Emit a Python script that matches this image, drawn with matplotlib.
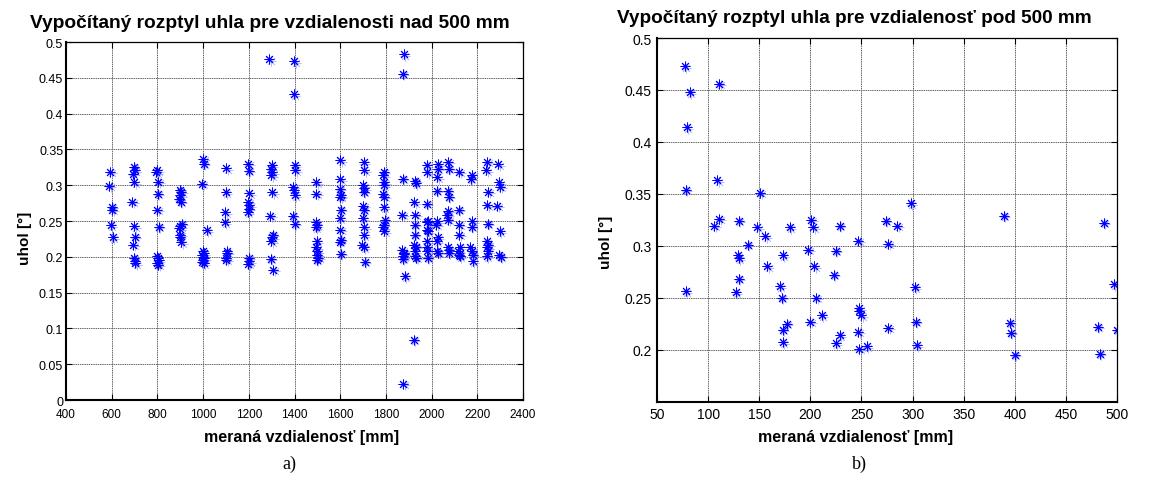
import numpy as np
import matplotlib
matplotlib.use('Agg')
import matplotlib.pyplot as plt
from matplotlib.ticker import FormatStrFormatter
import matplotlib.transforms as mtransforms

plt.rcParams['font.family'] = ['Liberation Sans', 'DejaVu Sans']

# a) distances above 500 mm, grouped by measured column
dist_nad = [
    593, 590, 600, 602, 595, 605,
    697, 700, 693, 698, 690, 699, 701, 694, 696, 700, 703,
    800, 796, 803, 801, 799, 805, 798, 802, 806, 800, 804,
    898, 905, 901, 894, 903, 907, 900, 896, 899, 897, 905,
    1000, 1003, 997, 1015, 998, 1003, 996, 1001, 1004, 999, 995, 1002,
    1102, 1100, 1096, 1095, 1103, 1106, 1098, 1101,
    1198, 1200, 1203, 1197, 1201, 1199, 1196, 1200, 1203, 1198,
    1290, 1300, 1296, 1302, 1298, 1303, 1294, 1305, 1302, 1299, 1296, 1306,
    1398, 1396, 1401, 1404, 1394, 1397, 1402, 1393, 1401,
    1496, 1495, 1494, 1498, 1493, 1497, 1495, 1499, 1500, 1503, 1497,
    1601, 1600, 1598, 1603, 1600, 1602, 1599, 1601, 1603, 1598, 1602,
    1703, 1705, 1700, 1706, 1702, 1701, 1703, 1699, 1706, 1702, 1697, 1704, 1708,
    1790, 1788, 1793, 1790, 1787, 1793, 1791, 1794, 1790, 1788, 1792,
    1877, 1874, 1873, 1871, 1872, 1878, 1875, 1873, 1880, 1882, 1876,
    1928, 1930, 1925, 1928, 1927, 1926, 1924, 1931, 1926, 1929, 1933, 1922,
    1979, 1981, 1978, 1982, 1980, 1978, 1983, 1979, 1981, 1980, 1982,
    2030, 2027, 2025, 2023, 2024, 2020, 2026, 2022, 2025, 2028,
    2073, 2075, 2070, 2074, 2072, 2068, 2072, 2070, 2074, 2076,
    2120, 2118, 2122, 2120, 2123, 2117, 2121, 2124,
    2175, 2172, 2178, 2175, 2170, 2176, 2179, 2180,
    2244, 2240, 2247, 2243, 2245, 2241, 2248, 2243, 2246, 2242,
    2292, 2296, 2300, 2288, 2298, 2294, 2303,
]
uhol_nad = [
    0.319, 0.299, 0.270, 0.266, 0.244, 0.227,
    0.326, 0.321, 0.316, 0.304, 0.277, 0.243, 0.228, 0.217, 0.199, 0.194, 0.191,
    0.321, 0.318, 0.305, 0.288, 0.266, 0.242, 0.201, 0.198, 0.195, 0.192, 0.189,
    0.294, 0.291, 0.286, 0.281, 0.277, 0.246, 0.243, 0.240, 0.231, 0.228, 0.220,
    0.337, 0.330, 0.302, 0.237, 0.208, 0.205, 0.202, 0.200, 0.198, 0.196, 0.193, 0.191,
    0.324, 0.290, 0.262, 0.248, 0.208, 0.206, 0.199, 0.196,
    0.330, 0.320, 0.289, 0.277, 0.272, 0.267, 0.262, 0.199, 0.194, 0.190,
    0.476, 0.328, 0.323, 0.318, 0.314, 0.290, 0.257, 0.231, 0.227, 0.222, 0.197, 0.182,
    0.473, 0.427, 0.328, 0.321, 0.298, 0.293, 0.286, 0.257, 0.246,
    0.304, 0.288, 0.248, 0.244, 0.241, 0.222, 0.213, 0.208, 0.203, 0.199, 0.196,
    0.335, 0.308, 0.295, 0.286, 0.284, 0.266, 0.254, 0.238, 0.224, 0.221, 0.204,
    0.332, 0.321, 0.300, 0.296, 0.291, 0.271, 0.266, 0.254, 0.241, 0.230, 0.217, 0.213, 0.193,
    0.319, 0.314, 0.304, 0.300, 0.288, 0.284, 0.269, 0.252, 0.245, 0.241, 0.236,
    0.483, 0.456, 0.309, 0.259, 0.210, 0.206, 0.201, 0.197, 0.204, 0.173, 0.023,
    0.306, 0.303, 0.276, 0.259, 0.245, 0.231, 0.217, 0.214, 0.208, 0.201, 0.199, 0.084,
    0.328, 0.318, 0.274, 0.250, 0.248, 0.238, 0.236, 0.222, 0.213, 0.208, 0.199,
    0.329, 0.323, 0.311, 0.292, 0.250, 0.245, 0.227, 0.222, 0.208, 0.206,
    0.333, 0.323, 0.292, 0.284, 0.264, 0.259, 0.252, 0.213, 0.210, 0.206,
    0.319, 0.266, 0.245, 0.231, 0.213, 0.208, 0.203, 0.201,
    0.314, 0.309, 0.250, 0.242, 0.213, 0.208, 0.203, 0.194,
    0.333, 0.321, 0.291, 0.272, 0.246, 0.222, 0.217, 0.213, 0.208, 0.201,
    0.329, 0.304, 0.298, 0.271, 0.236, 0.203, 0.200,
]

# b) distances below 500 mm
dist_pod = [77, 82, 79, 78, 111, 109, 151, 78,
            106, 111, 130, 148, 156, 139, 129, 130, 130, 127, 158,
            173, 170, 172, 180, 177, 173, 173,
            201, 203, 198, 204, 206, 211, 200,
            229, 225, 223, 229, 225,
            247, 248, 248, 250, 247, 248, 255,
            274, 276, 276, 285, 298, 302, 303, 304,
            389, 395, 396, 400, 487, 497, 481, 500, 483]
uhol_pod = [0.473, 0.448, 0.414, 0.354, 0.456, 0.363, 0.351, 0.256,
            0.319, 0.326, 0.324, 0.318, 0.309, 0.301, 0.291, 0.288, 0.268, 0.255, 0.280,
            0.291, 0.261, 0.250, 0.318, 0.225, 0.219, 0.207,
            0.325, 0.318, 0.296, 0.280, 0.250, 0.233, 0.227,
            0.319, 0.295, 0.272, 0.214, 0.206,
            0.305, 0.240, 0.237, 0.233, 0.217, 0.201, 0.203,
            0.324, 0.302, 0.221, 0.319, 0.341, 0.260, 0.227, 0.204,
            0.329, 0.226, 0.216, 0.195, 0.322, 0.263, 0.222, 0.219, 0.196]

star = (8, 2, 0)

fig = plt.figure(figsize=(11.5, 4.81), dpi=100)
ax1 = fig.add_axes([0.0574, 0.1663, 0.3974, 0.7443])
ax2 = fig.add_axes([0.5713, 0.1632, 0.4, 0.7557])

for ax, xs, ys in [(ax1, dist_nad, uhol_nad), (ax2, dist_pod, uhol_pod)]:
    # faint offset copy, like the blurred scan
    shadow = ax.transData + mtransforms.ScaledTranslation(1.5 / 100, -1.5 / 100,
                                                          fig.dpi_scale_trans)
    ax.plot(xs, ys, linestyle='none', marker=star, ms=7, mew=0.6,
            color='#8080ff', alpha=0.55, transform=shadow)
    ax.plot(xs, ys, linestyle='none', marker=star, ms=7, mew=0.7, color='b')
    ax.grid(True, color='0.4', linestyle=(0, (1.5, 0.8)), linewidth=0.7)
    ax.tick_params(direction='in', top=True, right=True, length=4, width=0.8)
    for side in ['top', 'right']:
        ax.spines[side].set_linewidth(0.9)
    for side in ['left', 'bottom']:
        ax.spines[side].set_linewidth(1.5)

ax1.set_xlim(400, 2400)
ax1.set_ylim(0, 0.5)
ax1.set_xticks(np.arange(400, 2401, 200))
ax1.set_yticks(np.arange(0, 0.501, 0.05))
ax1.yaxis.set_major_formatter(FormatStrFormatter('%g'))
ax1.tick_params(axis='x', labelsize=8.5, pad=6)
ax1.tick_params(axis='y', labelsize=9, pad=2)
for lbl in ax1.get_xticklabels():
    lbl.set_fontstretch('condensed')

ax2.set_xlim(50, 500)
ax2.set_ylim(0.15, 0.5)
ax2.set_xticks(np.arange(50, 501, 50))
ax2.set_yticks(np.arange(0.2, 0.501, 0.05))
ax2.yaxis.set_major_formatter(FormatStrFormatter('%g'))
ax2.tick_params(axis='both', labelsize=10, pad=4)

fig.text(0.235, 0.952, 'Vypočítaný rozptyl uhla pre vzdialenosti nad 500 mm',
         ha='center', va='center', fontsize=13.8, fontweight='bold')
fig.text(0.743, 0.962, 'Vypočítaný rozptyl uhla pre vzdialenosť pod 500 mm',
         ha='center', va='center', fontsize=13.7, fontweight='bold')

fig.text(0.022, 0.505, 'uhol [°]', rotation=90, ha='center', va='center',
         fontsize=11, fontweight='bold')
fig.text(0.527, 0.497, 'uhol [°]', rotation=90, ha='center', va='center',
         fontsize=11, fontweight='bold')
fig.text(0.262, 0.09, 'meraná vzdialenosť [mm]', ha='center', va='center',
         fontsize=11.5, fontweight='bold')
fig.text(0.744, 0.09, 'meraná vzdialenosť [mm]', ha='center', va='center',
         fontsize=11.5, fontweight='bold')

fig.text(0.252, 0.035, 'a)', ha='center', va='center', fontsize=13,
         family='Liberation Serif')
fig.text(0.747, 0.035, 'b)', ha='center', va='center', fontsize=13,
         family='Liberation Serif')

fig.savefig('out.png', dpi=100)
